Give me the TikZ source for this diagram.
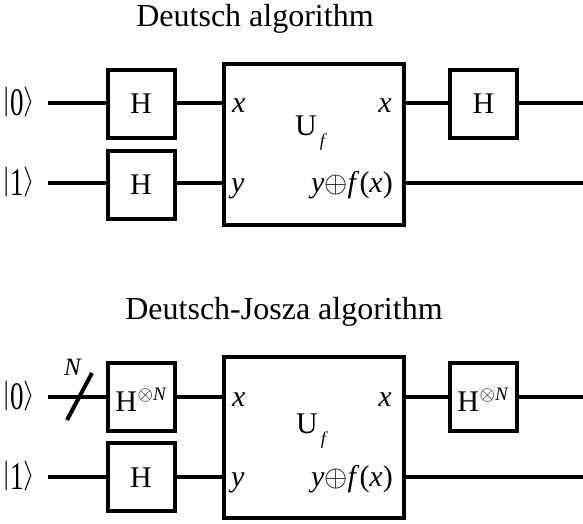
\documentclass[tikz,border=0pt]{standalone}
\usepackage{fontspec}
\setmainfont{Liberation Serif}
\newcommand\gfont{\fontsize{30}{36}\selectfont}
\newcommand\tfont{\fontsize{32}{38}\selectfont}
\newcommand\smfont{\fontsize{18}{20}\selectfont}
\newcommand\supfont{\fontsize{17.28}{18}\selectfont}
\newcommand\bm[1]{\scalebox{1.2}{$#1$}}
\newcommand\ketz[1]{\raisebox{5.5pt}{\bm{\vert}}\scalebox{0.9}[1.3]{#1}\raisebox{5.5pt}{\bm{\rangle}}}
\newcommand\Uf{U\hspace{3pt}\raisebox{-11pt}{\smfont\textit{f}}}
\newcommand\HN{H\hspace{0.5pt}\raisebox{11pt}{\supfont\scalebox{1.15}{$\otimes$}\fontsize{19}{20}\selectfont\textit{N}}}
\newcommand\yfx{\textit{y}\bm{\oplus}\textit{f}(\textit{x})}
\begin{document}
\begin{tikzpicture}[x=1pt,y=-1pt,
  wire/.style={line width=4pt},
  gate/.style={draw, line width=4pt, fill=white, minimum width=67pt, minimum height=68pt, inner sep=0pt, font=\gfont, text height=20pt, text depth=0pt},
  gateN/.style={gate, text height=29pt},
  oracle/.style={draw, line width=4pt, fill=white, minimum width=180pt, minimum height=161pt, inner sep=0pt},
  lbl/.style={inner sep=0pt, font=\gfont},
  ttl/.style={inner sep=0pt, font=\tfont}]
\useasboundingbox (0,0) rectangle (583,523);

% ---------- Deutsch algorithm ----------
\node[ttl, anchor=base] (t1) at (255,26) {Deutsch algorithm};
\coordinate (s1) at (48,103);
\coordinate (e1) at (583,103);
\coordinate (s2) at (48,183);
\coordinate (e2) at (583,183);
\node[gate] (h1) at (141,103.5) {H};
\node[gate] (h2) at (141,184.5) {H};
\node[oracle] (uf) at (313.5,144.5) {};
\node[gate] (h3) at (483.5,103.5) {H};
\node[lbl, anchor=base west] (k0) at (2,115) {\ketz{0}};
\node[lbl, anchor=base west] (k1) at (2,195) {\ketz{1}};
\node[lbl, anchor=base west] (ux1) at (232,112) {\textit{x}};
\node[lbl, anchor=base west] (uy1) at (231,192) {\textit{y}};
\node[lbl, anchor=base east] (ox1) at (392,112) {\textit{x}};
\node[lbl, anchor=base east] (oy1) at (393,192) {\yfx};
\node[lbl, anchor=base west] (u1) at (295,135) {\Uf};
\draw[wire] (s1) -- (h1.west|-s1);
\draw[wire] (h1.east|-s1) -- (uf.west|-s1);
\draw[wire] (uf.east|-s1) -- (h3.west|-s1);
\draw[wire] (h3.east|-s1) -- (e1);
\draw[wire] (s2) -- (h2.west|-s2);
\draw[wire] (h2.east|-s2) -- (uf.west|-s2);
\draw[wire] (uf.east|-s2) -- (e2);

% ---------- Deutsch-Josza algorithm ----------
\node[ttl, anchor=base] (t2) at (284,319) {Deutsch-Josza algorithm};
\coordinate (s3) at (48,397);
\coordinate (e3) at (583,397);
\coordinate (s4) at (48,477);
\coordinate (e4) at (583,477);
\node[gateN] (hn1) at (141,397) {\HN};
\node[gate] (hb2) at (141,477) {H};
\node[oracle] (uf2) at (313.5,437.5) {};
\node[gateN] (hn3) at (483,397) {\HN};
\node[lbl, anchor=base west] (k2) at (2,409) {\ketz{0}};
\node[lbl, anchor=base west] (k3) at (2,489) {\ketz{1}};
\node[lbl, anchor=base west] (ux2) at (232,406) {\textit{x}};
\node[lbl, anchor=base west] (uy2) at (231,486) {\textit{y}};
\node[lbl, anchor=base east] (ox2) at (392,406) {\textit{x}};
\node[lbl, anchor=base east] (oy2) at (393,486) {\yfx};
\node[lbl, anchor=base west] (u2) at (296,433) {\Uf};
\draw[wire] (s3) -- (hn1.west|-s3);
\draw[wire] (hn1.east|-s3) -- (uf2.west|-s3);
\draw[wire] (uf2.east|-s3) -- (hn3.west|-s3);
\draw[wire] (hn3.east|-s3) -- (e3);
\draw[wire] (s4) -- (hb2.west|-s4);
\draw[wire] (hb2.east|-s4) -- (uf2.west|-s4);
\draw[wire] (uf2.east|-s4) -- (e4);
\coordinate (sl1) at (67,420);
\coordinate (sl2) at (92,373);
\draw[wire] (sl1) -- (sl2);
\node[lbl, font=\fontsize{25}{27}\selectfont] (nlab) at (73,367) {\textit{N}};
\end{tikzpicture}
\end{document}
